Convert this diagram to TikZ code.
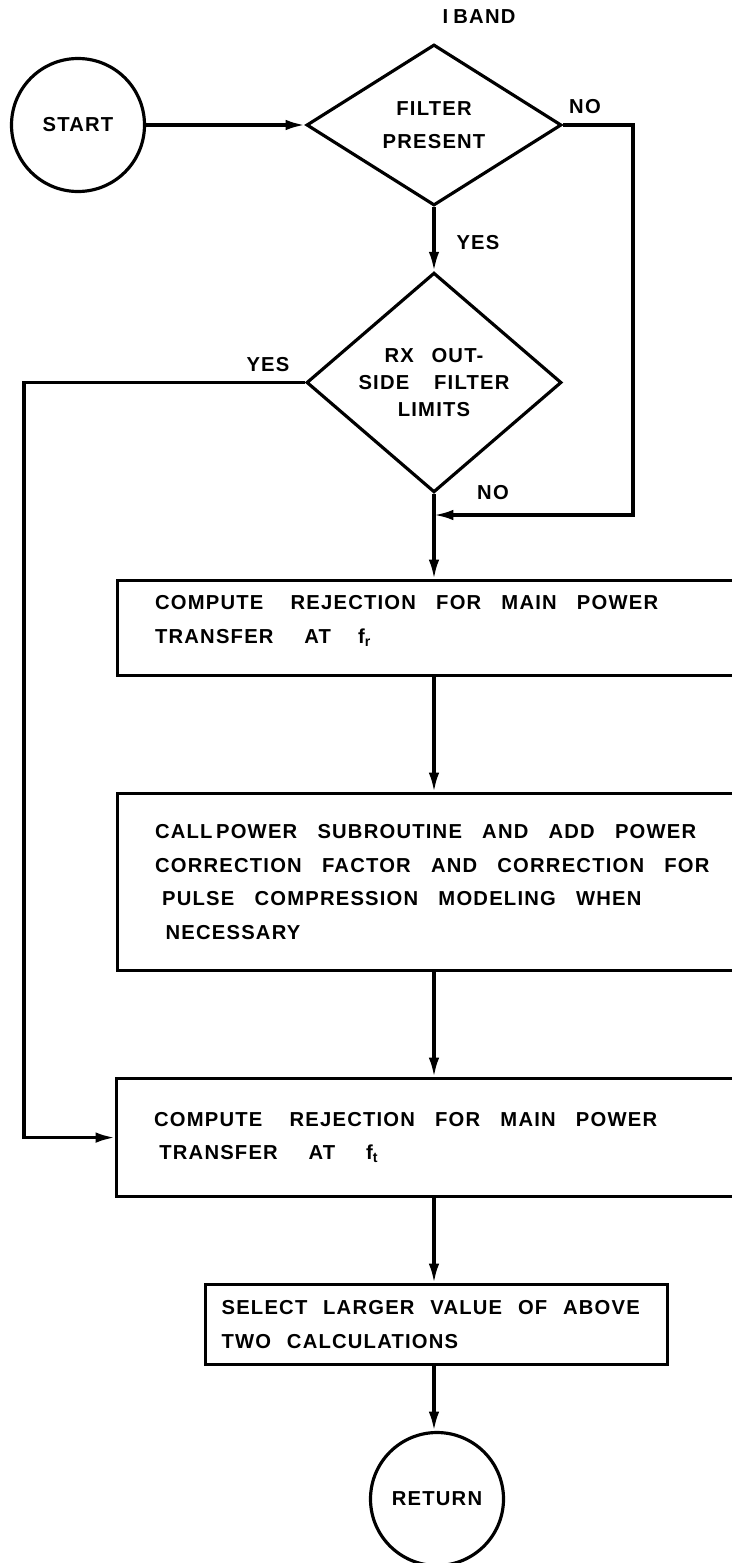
\documentclass[tikz,border=0pt]{standalone}
\usepackage{fontspec}
\setmainfont{Liberation Sans}[LetterSpace=6,WordSpace=2.6]
\usetikzlibrary{calc,positioning,arrows.meta,shapes.geometric}

\begin{document}
\begin{tikzpicture}[
        line width=1.8pt,
        font=\fontsize{11.5}{19}\selectfont\bfseries,
        term/.style={circle, draw, minimum size=2.66cm, inner sep=0pt},
        test/.style={diamond, draw, minimum width=5.1cm, minimum height=3.22cm, inner sep=0pt, align=center},
        box/.style={rectangle, draw, anchor=north west, minimum width=12.7cm, text width=11.2cm, inner xsep=0.7cm, align=left,
            execute at begin node={\spaceskip=11.5pt plus 2pt\relax}},
        lbl/.style={inner sep=1pt},
        arr/.style={-{Latex[length=11pt,width=6pt]}}
    ]
    \useasboundingbox (0,0) rectangle (14.64,-31.26);

    % decisions
    \node[lbl] (band) at (9.58,-0.34) {I\hspace{3pt}BAND};
    \node[term] (start) at (1.56,-2.5) {START};
    \node[test] (filter) at (8.68,-2.5) {FILTER\\PRESENT};
    \node[test, font=\fontsize{11.5}{15.5}\selectfont\bfseries] (rx) at (8.68,-7.65) {RX OUT-\\SIDE\hspace{4pt} FILTER\\LIMITS};

    % process boxes
    \node[box, minimum height=1.9cm] (rejr) at (2.32,-11.58)
        {COMPUTE\hspace{4pt} REJECTION FOR MAIN POWER\\TRANSFER\hspace{6pt} AT\hspace{4pt} f\textsubscript{r}\\[-9pt]\mbox{}};
    \node[box, minimum height=3.54cm] (power) at (2.32,-15.84)
        {CALL\hspace{2pt}POWER SUBROUTINE AND ADD POWER\\CORRECTION FACTOR AND CORRECTION FOR\\\hspace*{4pt}PULSE COMPRESSION MODELING WHEN\\\hspace*{6pt}NECESSARY};
    \node[box, minimum height=2.36cm] (rejt) at (2.3,-21.54)
        {COMPUTE\hspace{4pt} REJECTION FOR MAIN POWER\\\hspace*{3pt}TRANSFER\hspace{6pt} AT\hspace{6pt} f\textsubscript{t}};
    \node[box, minimum width=9.14cm, minimum height=1.6cm, text width=8.6cm, inner xsep=0.32cm] (select) at (4.08,-25.66)
        {\spaceskip=9pt\relax SELECT LARGER VALUE OF ABOVE\\TWO CALCULATIONS};
    \node[term] (ret) at (8.74,-29.98) {RETURN};

    % branch labels
    \node[lbl] (no1) at (11.7,-2.14) {NO};
    \node[lbl] (yes1) at (9.56,-4.86) {YES};
    \node[lbl] (yes2) at (5.36,-7.3) {YES};
    \node[lbl] (no2) at (9.86,-9.86) {NO};

    \coordinate (nocorner) at (12.66,-2.5);
    \coordinate (merge) at (8.68,-10.3);
    \coordinate (yescorner) at (0.48,-7.65);

    % connectors
    \draw[arr] (start) -- (filter.west);
    \draw[arr] (filter.south) -- (rx.north);
    \draw[arr] (filter.east) -- (nocorner) |- (merge);
    \draw[arr] (rx.south) -- (filter |- rejr.north);
    \draw[arr] (rx.west) -- (yescorner) |- (rejt.west);
    \draw[arr] (filter |- rejr.south) -- (filter |- power.north);
    \draw[arr] (filter |- power.south) -- (filter |- rejt.north);
    \draw[arr] (filter |- rejt.south) -- (filter |- select.north);
    \draw[arr] (filter |- select.south) -- (ret.north -| filter);
\end{tikzpicture}
\end{document}
